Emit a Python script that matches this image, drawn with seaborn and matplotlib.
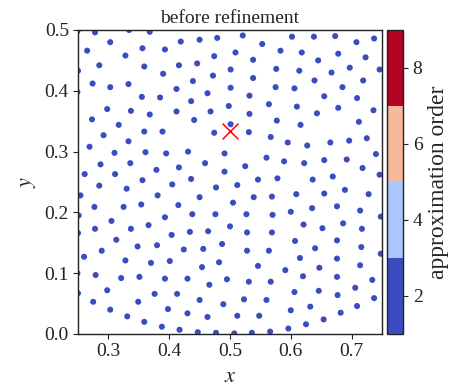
import numpy as np
import pandas as pd
import matplotlib
matplotlib.use("Agg")
import matplotlib.pyplot as plt
import seaborn as sns
from matplotlib.colors import Normalize
from matplotlib.cm import ScalarMappable

sns.set_style("ticks")
plt.rcParams["font.family"] = ["Liberation Serif", "DejaVu Serif"]
plt.rcParams["mathtext.fontset"] = "stix"

# ---- data ----
pt_x = [
    0.249, 0.278, 0.334, 0.368, 0.303, 0.265, 0.356, 0.393, 0.328, 0.250, 0.285, 0.359, 0.390,
    0.274, 0.303, 0.333, 0.412, 0.249, 0.355, 0.385, 0.298, 0.337, 0.368, 0.412, 0.273, 0.317,
    0.419, 0.450, 0.479, 0.521, 0.553, 0.583, 0.474, 0.509, 0.416, 0.446, 0.538, 0.501, 0.576,
    0.472, 0.439, 0.538, 0.501, 0.575, 0.463, 0.532, 0.436, 0.564, 0.498, 0.468, 0.532, 0.441,
    0.577, 0.501,
    0.602, 0.638, 0.673, 0.708, 0.737, 0.618, 0.678, 0.645, 0.723, 0.614, 0.667, 0.697, 0.746,
    0.639, 0.719, 0.606, 0.685, 0.655, 0.709, 0.610, 0.678, 0.643, 0.736, 0.616, 0.712,
    0.359, 0.389, 0.292, 0.333, 0.269, 0.310, 0.361, 0.395, 0.287, 0.336, 0.379, 0.261, 0.311,
    0.356, 0.285, 0.330, 0.405, 0.254, 0.381, 0.277, 0.325, 0.354, 0.251, 0.305, 0.393, 0.278,
    0.337, 0.366,
    0.474, 0.531, 0.567, 0.431, 0.491, 0.560, 0.416, 0.459, 0.525, 0.491, 0.436, 0.546, 0.578,
    0.477, 0.512, 0.450, 0.539, 0.569, 0.415, 0.505, 0.438, 0.476, 0.527, 0.570, 0.500, 0.434,
    0.464, 0.528, 0.569,
    0.595, 0.627, 0.665, 0.696, 0.725, 0.740, 0.589, 0.622, 0.655, 0.692, 0.718, 0.636, 0.669,
    0.746, 0.609, 0.655, 0.689, 0.728, 0.600, 0.635, 0.676, 0.714, 0.748, 0.621, 0.652, 0.686,
    0.717,
    0.250, 0.404, 0.313, 0.348, 0.380, 0.289, 0.260, 0.328, 0.370, 0.401, 0.249, 0.279, 0.321,
    0.351, 0.393, 0.250, 0.298, 0.376, 0.413, 0.275, 0.349, 0.303, 0.398, 0.331, 0.359, 0.388,
    0.424, 0.456, 0.487, 0.528, 0.564, 0.454, 0.482, 0.546, 0.430, 0.466, 0.495, 0.531, 0.567,
    0.450, 0.489, 0.523, 0.560, 0.430, 0.463, 0.512, 0.548, 0.417, 0.447, 0.477, 0.507, 0.536,
    0.566,
    0.607, 0.640, 0.676, 0.716, 0.748, 0.615, 0.676, 0.591, 0.647, 0.714, 0.620, 0.676, 0.734,
    0.606, 0.646, 0.677, 0.706, 0.737, 0.600, 0.632, 0.682, 0.709, 0.596, 0.625, 0.654,
]
pt_y = [
    0.498, 0.496, 0.500, 0.497, 0.480, 0.466, 0.470, 0.468, 0.458, 0.433, 0.442, 0.440, 0.428,
    0.412, 0.406, 0.411, 0.403, 0.398, 0.390, 0.389, 0.370, 0.367, 0.361, 0.366, 0.353, 0.344,
    0.481, 0.484, 0.487, 0.491, 0.477, 0.466, 0.457, 0.463, 0.442, 0.445, 0.451, 0.435, 0.436,
    0.425, 0.416, 0.421, 0.405, 0.406, 0.396, 0.392, 0.383, 0.378, 0.375, 0.366, 0.362, 0.352,
    0.351, 0.345,
    0.489, 0.489, 0.490, 0.480, 0.486, 0.463, 0.461, 0.450, 0.455, 0.433, 0.430, 0.438, 0.435,
    0.417, 0.417, 0.404, 0.406, 0.391, 0.388, 0.374, 0.372, 0.363, 0.368, 0.344, 0.349,
    0.333, 0.333, 0.327, 0.317, 0.308, 0.298, 0.299, 0.297, 0.279, 0.281, 0.270, 0.263, 0.263,
    0.253, 0.244, 0.239, 0.246, 0.228, 0.228, 0.209, 0.209, 0.213, 0.195, 0.186, 0.192, 0.173,
    0.173, 0.179,
    0.331, 0.332, 0.324, 0.300, 0.297, 0.290, 0.274, 0.281, 0.276, 0.267, 0.255, 0.254, 0.256,
    0.241, 0.245, 0.225, 0.225, 0.226, 0.212, 0.216, 0.197, 0.197, 0.197, 0.196, 0.177, 0.168,
    0.169, 0.167, 0.167,
    0.315, 0.310, 0.315, 0.318, 0.322, 0.296, 0.284, 0.281, 0.286, 0.287, 0.273, 0.254, 0.259,
    0.262, 0.230, 0.231, 0.237, 0.230, 0.201, 0.207, 0.210, 0.203, 0.193, 0.180, 0.174, 0.182,
    0.173,
    0.166, 0.163, 0.155, 0.144, 0.146, 0.137, 0.127, 0.121, 0.117, 0.120, 0.100, 0.097, 0.092,
    0.094, 0.091, 0.067, 0.072, 0.066, 0.066, 0.053, 0.053, 0.040, 0.041, 0.029, 0.020, 0.012,
    0.139, 0.140, 0.148, 0.137, 0.137, 0.110, 0.118, 0.112, 0.091, 0.081, 0.090, 0.086, 0.086,
    0.056, 0.049, 0.057, 0.056, 0.034, 0.028, 0.030, 0.030, 0.007, 0.003, 0.002, 0.001, 0.002,
    0.004,
    0.153, 0.141, 0.154, 0.143, 0.132, 0.125, 0.124, 0.105, 0.109, 0.113, 0.095, 0.094, 0.089,
    0.069, 0.071, 0.064, 0.076, 0.059, 0.039, 0.045, 0.035, 0.046, 0.009, 0.016, 0.024,
]
pt_order = [2] * len(pt_x)          # approximation order of every point
target_x = [0.5]
target_y = [1.0 / 3.0]

cbar_ticks = [2, 4, 6, 8]
order_min, order_max = 1, 9
x_ticks = [0.3, 0.4, 0.5, 0.6, 0.7]
y_ticks = [0.0, 0.1, 0.2, 0.3, 0.4, 0.5]

df = pd.DataFrame({"x": pt_x, "y": pt_y, "order": pt_order})
tgt = pd.DataFrame({"x": target_x, "y": target_y})

cmap = matplotlib.colormaps["coolwarm"].resampled(4)
norm = Normalize(vmin=order_min, vmax=order_max)

fig = plt.figure(figsize=(4.66, 3.90), dpi=100)
ax = fig.add_axes([78 / 466, 56 / 390, 304 / 466, 304 / 390])
cax = fig.add_axes([387 / 466, 56 / 390, 16 / 466, 304 / 390])

sns.scatterplot(data=df, x="x", y="y", hue="order", palette=cmap, hue_norm=norm,
                legend=False, s=19, linewidth=0, ax=ax)
sns.scatterplot(data=tgt, x="x", y="y", marker="x", color="red", s=130,
                linewidth=1.1, ax=ax, zorder=5)

ax.set_xlim(0.25, 0.75)
ax.set_ylim(0.0, 0.5)
ax.set_xticks(x_ticks)
ax.set_yticks(y_ticks)
ax.set_xticklabels([f"{v:.1f}" for v in x_ticks])
ax.set_yticklabels([f"{v:.1f}" for v in y_ticks])
ax.tick_params(direction="out", length=3.5, width=0.8, labelsize=14, pad=3,
               colors="#222222")
for s in ax.spines.values():
    s.set_visible(True)
    s.set_linewidth(1.0)
    s.set_color("#222222")
ax.set_xlabel("$x$", fontsize=16, labelpad=6)
ax.set_ylabel("$y$", fontsize=16, labelpad=5)
ax.set_title("before refinement", fontsize=14, pad=5)

cb = fig.colorbar(ScalarMappable(norm=norm, cmap=cmap), cax=cax, ticks=cbar_ticks)
cb.ax.tick_params(direction="out", length=3.5, width=0.8, labelsize=14, colors="#222222")
cb.set_label("approximation order", fontsize=17, labelpad=4)
cb.outline.set_linewidth(1.0)
cb.outline.set_edgecolor("#222222")

fig.savefig("out.png", dpi=100)
